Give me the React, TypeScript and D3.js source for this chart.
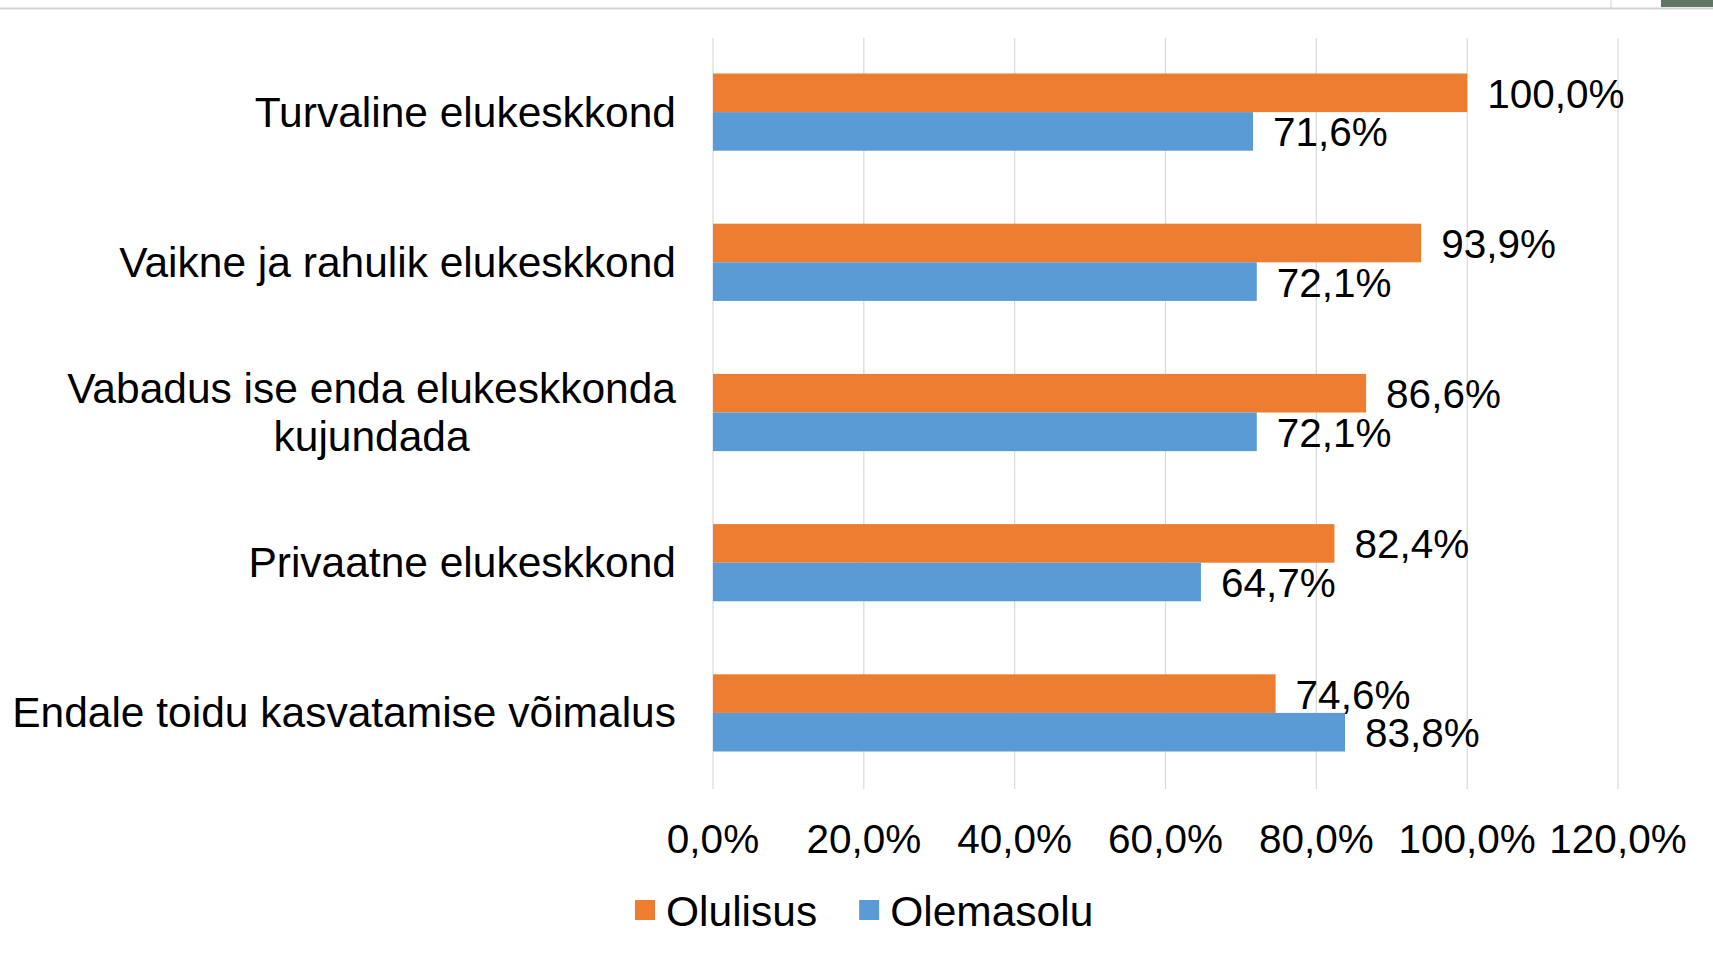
import React from "react";
import * as d3 from "d3";

const categories = [
  ["Turvaline elukeskkond"],
  ["Vaikne ja rahulik elukeskkond"],
  ["Vabadus ise enda elukeskkonda", "kujundada"],
  ["Privaatne elukeskkond"],
  ["Endale toidu kasvatamise võimalus"],
];
const olulisus = [100.0, 93.9, 86.6, 82.4, 74.6];
const olemasolu = [71.6, 72.1, 72.1, 64.7, 83.8];
const ticks = [0, 20, 40, 60, 80, 100, 120];
const seriesNames = ["Olulisus", "Olemasolu"];
const colors = ["#ED7D31", "#5B9BD5"];

const W = 1713;
const H = 953;
const FONT = "'Liberation Sans', Arial, sans-serif";
const catSize = 42.5;
const numSize = 40.5;

const fmt = (v: number) => v.toFixed(1).replace(".", ",") + "%";

let ctx: CanvasRenderingContext2D | null = null;
function measure(t: string, size: number) {
  if (!ctx) ctx = document.createElement("canvas").getContext("2d");
  if (!ctx) return t.length * size * 0.5;
  ctx.font = `${size}px ${FONT}`;
  return ctx.measureText(t).width;
}

export default function App() {
  const x = d3.scaleLinear().domain([0, 120]).range([713, 1618]);
  const y = d3
    .scaleBand<number>()
    .domain(d3.range(categories.length))
    .range([37, 788])
    .paddingInner(0)
    .paddingOuter(0);
  const barH = 38.6;
  const labelRight = 676;

  return (
    <div style={{ position: "absolute", left: 0, top: 0 }}>
      <svg width={W} height={H} style={{ display: "block" }} fontFamily={FONT}>
        <rect x={0} y={0} width={W} height={H} fill="#fff" />
        <line x1={0} x2={W} y1={8.5} y2={8.5} stroke="#d4d4d4" strokeWidth={2} />
        <rect x={1661} y={0} width={52} height={7} fill="#5f7566" />
        <line x1={1611} x2={1611} y1={0} y2={8} stroke="#cfcfcf" strokeWidth={1} />
        {ticks.map((t) => (
          <line
            key={"g" + t}
            x1={x(t)}
            x2={x(t)}
            y1={38}
            y2={789}
            stroke="#D9D9D9"
            strokeWidth={1.2}
          />
        ))}
        {categories.map((lines, i) => {
          const cy = (y(i) as number) + y.bandwidth() / 2;
          const vals = [olulisus[i], olemasolu[i]];
          const widest = Math.max(...lines.map((l) => measure(l, catSize)));
          const cx = labelRight - widest / 2;
          const lh = 48;
          return (
            <g key={i}>
              {vals.map((v, s) => {
                const by = cy - barH + s * barH;
                return (
                  <g key={s}>
                    <rect x={x(0)} y={by} width={x(v) - x(0)} height={barH} fill={colors[s]} />
                    <text
                      x={x(v) + 20}
                      y={by + barH / 2 + 1}
                      fontSize={numSize}
                      dominantBaseline="central"
                      fill="#000"
                    >
                      {fmt(v)}
                    </text>
                  </g>
                );
              })}
              {lines.map((l, k) => (
                <text
                  key={k}
                  x={cx}
                  y={cy + (k - (lines.length - 1) / 2) * lh}
                  fontSize={catSize}
                  textAnchor="middle"
                  dominantBaseline="central"
                  fill="#000"
                >
                  {l}
                </text>
              ))}
            </g>
          );
        })}
        {ticks.map((t) => (
          <text
            key={"t" + t}
            x={x(t)}
            y={839}
            fontSize={numSize}
            textAnchor="middle"
            dominantBaseline="central"
            fill="#000"
          >
            {fmt(t)}
          </text>
        ))}
        {(() => {
          const items: React.ReactNode[] = [];
          let lx = 635;
          seriesNames.forEach((n, s) => {
            items.push(
              <rect key={"r" + s} x={lx} y={900} width={20} height={20} fill={colors[s]} />
            );
            items.push(
              <text
                key={"l" + s}
                x={lx + 31}
                y={911}
                fontSize={catSize}
                dominantBaseline="central"
                fill="#000"
              >
                {n}
              </text>
            );
            lx += 31 + measure(n, catSize) + 42;
          });
          return items;
        })()}
      </svg>
    </div>
  );
}
